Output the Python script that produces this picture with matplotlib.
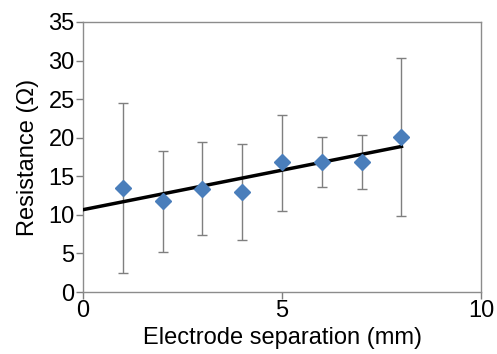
import numpy as np
import matplotlib.pyplot as plt

plt.rcParams['font.family'] = ['Liberation Sans', 'DejaVu Sans']

# Data
separation = [1, 2, 3, 4, 5, 6, 7, 8]
resistance = [13.45, 11.8, 13.4, 13.0, 16.8, 16.8, 16.9, 20.1]
err_low = [11.0, 6.6, 6.0, 6.3, 6.3, 3.2, 3.6, 10.3]
err_high = [11.0, 6.5, 6.0, 6.2, 6.2, 3.3, 3.5, 10.2]

# Linear trend line through the means
slope, intercept = np.polyfit(separation, resistance, 1)
x_fit = np.array([0, 8])
y_fit = slope * x_fit + intercept

fig = plt.figure(figsize=(4.97, 3.54), dpi=100)
ax = fig.add_axes([0.167, 0.175, 0.801, 0.763])

ax.errorbar(separation, resistance, yerr=[err_low, err_high], fmt='none',
            ecolor='#7f7f7f', elinewidth=1.0, capsize=3.5, capthick=1.0, zorder=2)
ax.plot(x_fit, y_fit, color='black', linewidth=2.5, zorder=3)
ax.plot(separation, resistance, linestyle='none', marker='D', markersize=8,
        color='#4a7ebb', zorder=4)

ax.set_xlim(0, 10)
ax.set_ylim(0, 35)
ax.set_xticks([0, 5, 10])
ax.set_yticks(range(0, 36, 5))
ax.tick_params(labelsize=17, color='#7f7f7f', length=5, width=1, pad=1)
for s in ax.spines.values():
    s.set_color('#8c8c8c')
    s.set_linewidth(1)

ax.set_xlabel('Electrode separation (mm)', fontsize=17, labelpad=3)
ax.set_ylabel('Resistance (\u03a9)', fontsize=17, labelpad=7)

fig.savefig('out.png', dpi=100)
